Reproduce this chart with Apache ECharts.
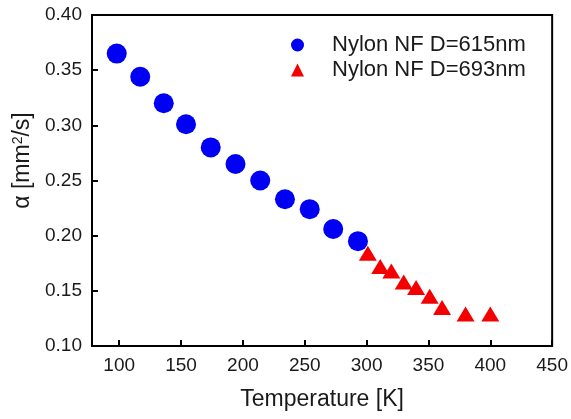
<!DOCTYPE html>
<html>
<head>
<meta charset="utf-8">
<script src="https://cdn.jsdelivr.net/npm/echarts@6/dist/echarts.min.js"></script>
<style>
  html, body { margin: 0; padding: 0; background: #fff; }
  #chart { width: 571px; height: 419px; }
</style>
</head>
<body>
<div id="chart"></div>
<script>
// 615nm 样品
var temp615 = [98, 117, 136, 154, 174, 194, 214, 234, 254, 273, 293];
var alpha615 = [0.365, 0.344, 0.320, 0.301, 0.280, 0.265, 0.250, 0.233, 0.224, 0.206, 0.195];
// 693nm 样品
var temp693 = [301, 311, 320, 330, 340, 351, 361, 380, 400];
var alpha693 = [0.184, 0.172, 0.168, 0.158, 0.153, 0.145, 0.135, 0.129, 0.129];
var yTicks = [0.10, 0.15, 0.20, 0.25, 0.30, 0.35, 0.40];

var font = "'Liberation Sans', Arial, sans-serif";
var textColor = '#1a1a1a';

function pairs(xs, ys) {
    var out = [];
    for (var i = 0; i < xs.length; i++) {
        out.push([xs[i], ys[i]]);
    }
    return out;
}

var myChart = echarts.init(document.getElementById('chart'));
var option = {
    animation: false,
    backgroundColor: '#fff',
    textStyle: { fontFamily: font },
    grid: {
        left: 92,
        right: 18,
        top: 15,
        bottom: 73,
        show: true,
        borderColor: '#000',
        borderWidth: 2
    },
    legend: {
        orient: 'vertical',
        left: 286,
        top: 29,
        itemWidth: 13,
        itemHeight: 13,
        itemGap: 3,
        textStyle: {
            fontFamily: font,
            fontSize: 22,
            color: textColor,
            padding: [0, 0, 0, 23]
        },
        data: [
            { name: 'Nylon NF D=615nm', icon: 'circle' },
            { name: 'Nylon NF D=693nm', icon: 'triangle' }
        ]
    },
    xAxis: {
        type: 'value',
        min: 78,
        max: 450,
        splitNumber: 8,
        name: 'Temperature [K]',
        nameLocation: 'middle',
        nameGap: 42,
        nameTextStyle: { fontSize: 23, color: textColor, fontFamily: font },
        axisLine: { lineStyle: { color: '#000', width: 2 } },
        axisTick: { inside: true, length: 6, lineStyle: { color: '#000', width: 2 } },
        axisLabel: {
            showMinLabel: false,
            margin: 10,
            fontSize: 19,
            color: textColor,
            fontFamily: font
        },
        splitLine: { show: false }
    },
    yAxis: {
        type: 'value',
        min: yTicks[0],
        max: yTicks[yTicks.length - 1],
        interval: 0.05,
        name: 'α [mm{sup|2}/s]',
        nameLocation: 'middle',
        nameGap: 54,
        nameTextStyle: {
            fontSize: 23,
            color: textColor,
            fontFamily: font,
            padding: [0, 0, 0, 40],
            rich: {
                sup: { fontSize: 14, verticalAlign: 'top', padding: [0, 0, 8, 0], color: textColor, fontFamily: font }
            }
        },
        axisLine: { lineStyle: { color: '#000', width: 2 } },
        axisTick: { inside: true, length: 6, lineStyle: { color: '#000', width: 2 } },
        axisLabel: {
            margin: 10,
            fontSize: 19,
            color: textColor,
            fontFamily: font,
            formatter: function (v) { return v.toFixed(2); }
        },
        splitLine: { show: false }
    },
    series: [
        {
            name: 'Nylon NF D=615nm',
            type: 'scatter',
            symbol: 'circle',
            symbolSize: 20,
            itemStyle: { color: '#0000f5', opacity: 1 },
            data: pairs(temp615, alpha615)
        },
        {
            name: 'Nylon NF D=693nm',
            type: 'scatter',
            symbol: 'triangle',
            symbolSize: [18, 15],
            itemStyle: { color: '#f50000', opacity: 1 },
            data: pairs(temp693, alpha693)
        }
    ]
};
myChart.setOption(option);
</script>
</body>
</html>
